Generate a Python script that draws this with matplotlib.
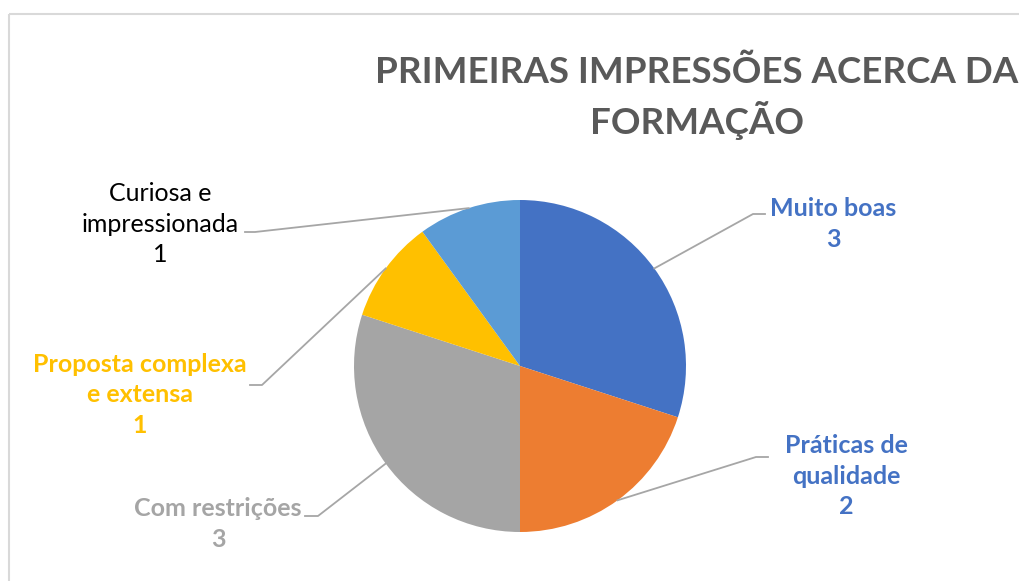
import matplotlib.pyplot as plt
import numpy as np

categories = ["Muito boas", "Práticas de\nqualidade", "Com restrições",
              "Proposta complexa\ne extensa", "Curiosa e\nimpressionada"]
values = [3, 2, 3, 1, 1]
colors = ["#4472C4", "#ED7D31", "#A5A5A5", "#FFC000", "#5B9BD5"]
label_colors = ["#4472C4", "#4472C4", "#A5A5A5", "#FFC000", "#000000"]
label_weights = ["bold", "bold", "bold", "bold", "normal"]
title = "PRIMEIRAS IMPRESSÕES ACERCA DA\nFORMAÇÃO"

W, H = 1019, 581
plt.rcParams['font.family'] = ['Lato', 'DejaVu Sans']

fig = plt.figure(figsize=(W / 100, H / 100), dpi=100)
ax = fig.add_axes([0, 0, 1, 1])

cx, cy, r = 520, H - 366, 166
wedges, _ = ax.pie(values, colors=colors, startangle=90, counterclock=False,
                   center=(cx, cy), radius=r, frame=True,
                   wedgeprops=dict(linewidth=0))
ax.set_xlim(0, W)
ax.set_ylim(0, H)
ax.set_aspect('equal')
ax.axis('off')

# chart frame (cut off at right and bottom)
ax.plot([9, 9], [0, H - 14], color="#D9D9D9", lw=1.5, solid_capstyle='butt')
ax.plot([9, W], [H - 14, H - 14], color="#D9D9D9", lw=1.5, solid_capstyle='butt')

ax.text(697, H - 98, title, ha='center', va='center', fontsize=26.5,
        fontweight='bold', color="#595959", linespacing=1.35)

# label text centres and leader elbow points (pixel layout)
label_pos = [(833, H - 224), (846, H - 476), (218, H - 524),
             (140, H - 395), (160, H - 224)]
elbows = [((765, H - 214), (753, H - 214)),
          ((768, H - 457), (756, H - 457)),
          ((305, H - 516), (318, H - 516)),
          ((250, H - 385), (262, H - 385)),
          ((245, H - 232), (255, H - 232))]

for w, cat, v, pos, lc, fw, (p0, p1) in zip(wedges, categories, values, label_pos,
                                             label_colors, label_weights, elbows):
    ang = np.deg2rad((w.theta1 + w.theta2) / 2)
    ex, ey = cx + r * np.cos(ang), cy + r * np.sin(ang)
    ax.plot([p0[0], p1[0], ex], [p0[1], p1[1], ey], color="#A6A6A6", lw=1.3)
    ax.text(pos[0], pos[1], f"{cat}\n{v}", ha='center', va='center',
            fontsize=18, fontweight=fw, color=lc, linespacing=1.42)

fig.savefig("out.png", dpi=100)
